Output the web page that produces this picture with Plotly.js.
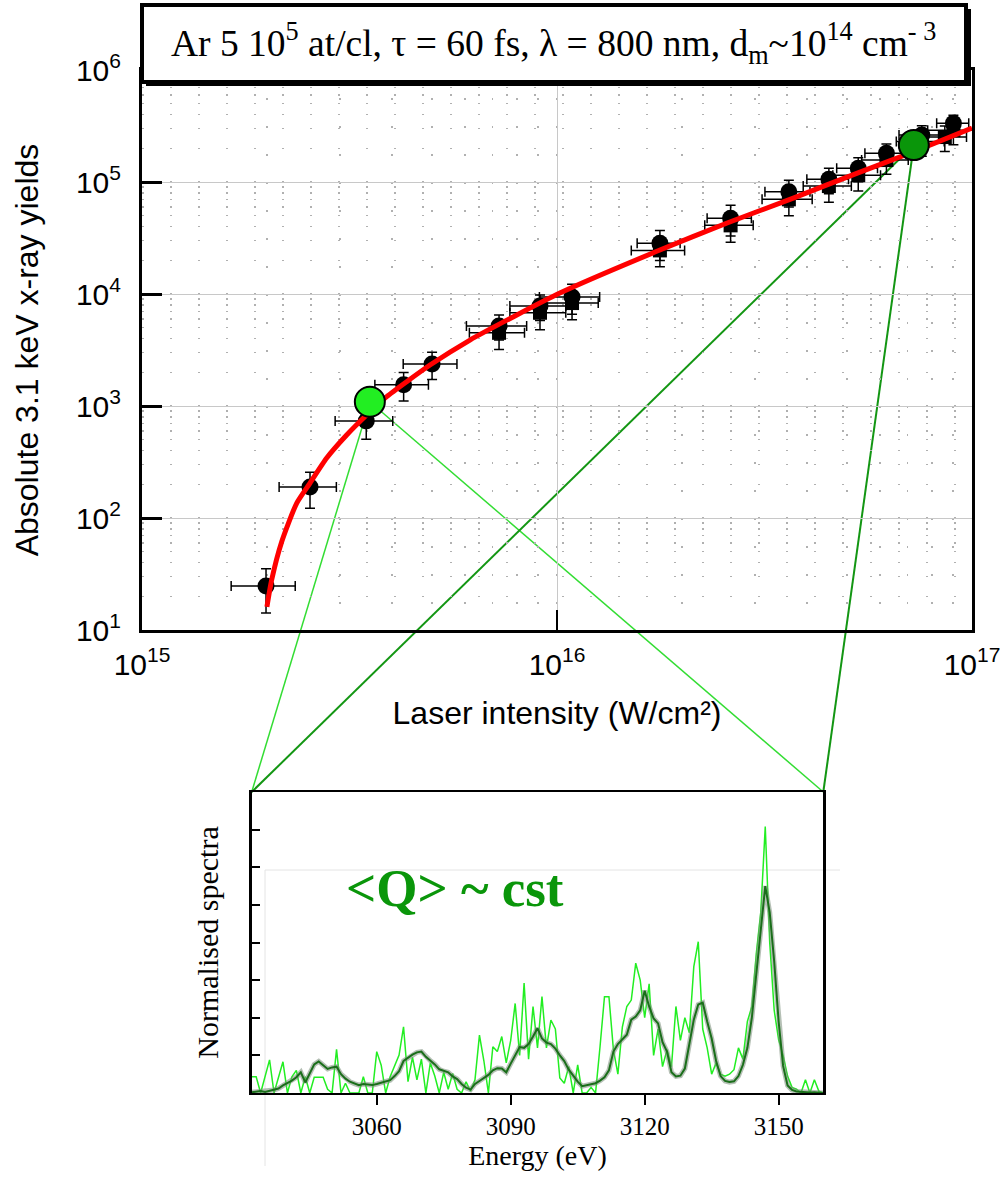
<!DOCTYPE html>
<html>
<head>
<meta charset="utf-8">
<script src="https://cdn.plot.ly/plotly-3.0.1.min.js"></script>
<style>html,body{margin:0;padding:0;background:#fff;}#chart{width:1000px;height:1182px;}</style>
</head>
<body>
<div id="chart"></div>
<script>
// ---------------- Main plot data (x: laser intensity W/cm², y: absolute 3.1 keV x-ray yield) ----------------
const circleX = [1.99e15, 2.54e15, 3.47e15, 4.27e15, 5.0e15, 7.25e15, 9.1e15, 1.087e16, 1.77e16, 2.62e16, 3.62e16, 4.52e16, 5.32e16, 6.22e16, 7.57e16, 9.02e16];
const circleY = [24.7, 189, 735, 1550, 2370, 5180, 7810, 9400, 28400, 47400, 81800, 105700, 132500, 180300, 263000, 334000];
const circleXErr = [0.35e15, 0.4e15, 0.55e15, 0.63e15, 0.74e15, 1.2e15, 1.4e15, 1.8e15, 2.1e15, 3.2e15, 4.5e15, 5.2e15, 6e15, 7e15, 9e15, 8e15];
const circleYErr = [10.5, 67, 230, 440, 650, 1300, 2000, 2800, 8500, 14500, 22000, 27000, 32000, 38000, 55000, 60000];

const squareX = [7.25e15, 9.1e15, 1.087e16, 1.77e16, 2.62e16, 3.62e16, 4.52e16, 5.32e16, 6.22e16, 7.57e16, 8.6e16, 9.02e16];
const squareY = [4500, 6800, 8300, 24500, 41000, 70000, 92000, 115000, 157000, 230000, 252000, 290000];
const squareXErr = [1.1e15, 1.4e15, 1.7e15, 2.6e15, 3.5e15, 5e15, 6e15, 7e15, 8e15, 1e16, 1.1e16, 1.2e16];
const squareYErr = [1300, 2000, 2400, 7000, 12000, 20000, 26000, 32000, 40000, 60000, 65000, 75000];

const fitX = [2.0e15, 2.053e15, 2.171e15, 2.36e15, 2.54e15, 2.786e15, 3.113e15, 3.478e15, 3.887e15, 4.343e15, 4.943e15, 6.17e15, 7.92e15, 1.016e16, 1.77e16, 2.57e16, 3.71e16, 5.37e16, 7.10e16, 1.0e17];
const fitY = [16.1, 27.9, 61.4, 136, 205, 343, 551, 831, 1211, 1648, 2322, 3880, 6370, 10200, 24700, 43000, 71900, 122700, 181500, 303000];

const lowPointX = [3.54e15];
const lowPointY = [1091];
const highPointX = [7.24e16];
const highPointY = [213600];

const xTickVals = [1e15, 1e16, 1e17];
const xTickText = ['10<sup>15</sup>', '10<sup>16</sup>', '10<sup>17</sup>'];
const yTickVals = [1e1, 1e2, 1e3, 1e4, 1e5, 1e6];
const yTickText = ['10<sup>1</sup>', '10<sup>2</sup>', '10<sup>3</sup>', '10<sup>4</sup>', '10<sup>5</sup>', '10<sup>6</sup>'];

// ---------------- Inset spectra data ----------------
const energy = [3032,3033,3034,3035,3036,3037,3038,3039,3040,3041,
3042,3043,3044,3045,3046,3047,3048,3049,3050,3051,
3052,3053,3054,3055,3056,3057,3058,3059,3060,3061,
3062,3063,3064,3065,3066,3067,3068,3069,3070,3071,
3072,3073,3074,3075,3076,3077,3078,3079,3080,3081,
3082,3083,3084,3085,3086,3087,3088,3089,3090,3091,
3092,3093,3094,3095,3096,3097,3098,3099,3100,3101,
3102,3103,3104,3105,3106,3107,3108,3109,3110,3111,
3112,3113,3114,3115,3116,3117,3118,3119,3120,3121,
3122,3123,3124,3125,3126,3127,3128,3129,3130,3131,
3132,3133,3134,3135,3136,3137,3138,3139,3140,3141,
3142,3143,3144,3145,3146,3147,3148,3149,3150,3151,
3152,3153,3154,3155,3156,3157,3158,3159,3160];

const spectrumHigh = [0.02,0.03,0.05,0.03,0.06,0.08,0.12,0.20,0.26,0.33,
0.42,0.55,0.28,0.52,0.76,0.84,0.75,0.64,0.68,0.70,
0.50,0.38,0.30,0.25,0.21,0.24,0.23,0.21,0.24,0.27,
0.29,0.34,0.45,0.58,0.85,0.94,1.02,1.08,1.10,0.96,
0.86,0.76,0.63,0.58,0.55,0.44,0.37,0.24,0.14,0.09,
0.24,0.32,0.40,0.48,0.60,0.66,0.65,0.55,0.78,1.02,
1.22,1.20,1.30,1.50,1.72,1.45,1.34,1.30,1.18,1.00,
0.85,0.62,0.45,0.30,0.18,0.20,0.24,0.26,0.33,0.42,
0.60,1.10,1.30,1.42,1.55,1.95,2.03,2.20,2.72,2.30,
1.98,1.85,1.35,1.10,0.55,0.44,0.46,0.65,1.30,1.95,
2.35,2.40,1.90,1.45,0.85,0.45,0.32,0.29,0.31,0.45,
0.75,1.20,2.00,3.20,4.40,5.50,4.80,3.50,1.90,0.72,
0.20,0.08,0.04,0.03,0.02,0.01,0.02,0.01,0.00];

const spectrumLow = [0.43,0.43,0.00,0.43,0.88,0.00,0.43,0.83,0.00,0.43,
0.60,0.00,0.43,0.00,0.42,0.42,0.42,0.10,0.00,1.16,
0.00,0.26,0.00,0.00,0.00,0.43,0.00,0.00,1.10,0.74,
0.00,0.43,0.70,1.01,1.76,0.30,0.95,0.35,0.90,0.00,
0.80,0.45,0.00,0.55,0.10,0.52,0.10,0.00,0.30,0.05,
0.35,1.54,0.85,0.00,1.23,1.10,1.50,0.80,1.40,2.38,
1.00,2.92,0.90,2.30,1.20,2.56,1.20,1.94,1.70,0.40,
0.26,0.70,0.00,0.75,0.00,0.00,0.15,0.00,1.23,2.56,
2.56,1.15,0.50,1.75,2.30,2.47,3.45,3.00,2.00,2.90,
1.00,1.70,0.70,1.15,0.70,2.30,1.40,2.00,1.60,3.36,
4.02,1.70,1.20,0.50,0.80,0.50,0.45,0.50,0.62,1.20,
0.90,1.90,2.30,3.71,4.80,7.08,4.00,2.20,1.41,1.00,
0.45,0.15,0.10,0.00,0.35,0.00,0.35,0.05,0.00];

const insetTickVals = [3060, 3090, 3120, 3150];
const insetYTickVals = [1, 2, 3, 4, 5, 6, 7];

// ---------------- Layout geometry ----------------
const W = 1000, H = 1182;
const px = p => p / W;
const py = p => 1 - p / H;

const mainXDomain = [px(142), px(972)];
const mainYDomain = [py(630), py(70)];
const mainXRange = [15, 17];
const mainYRange = [1, 6];
const insetXDomain = [px(251.7), px(823.3)];
const insetYDomain = [py(1093), py(792)];

function mainToPaper(x, y) {
  const fx = (Math.log10(x) - mainXRange[0]) / (mainXRange[1] - mainXRange[0]);
  const fy = (Math.log10(y) - mainYRange[0]) / (mainYRange[1] - mainYRange[0]);
  return [mainXDomain[0] + fx * (mainXDomain[1] - mainXDomain[0]),
          mainYDomain[0] + fy * (mainYDomain[1] - mainYDomain[0])];
}

const serif = 'Liberation Serif, Times New Roman, serif';
const sans = 'Liberation Sans, Arial, sans-serif';

const traces = [
  { x: squareX, y: squareY, xaxis: 'x', yaxis: 'y', mode: 'markers', type: 'scatter',
    marker: { symbol: 'square', size: 14, color: 'black' },
    error_x: { type: 'data', array: squareXErr, color: 'black', thickness: 1.5, width: 5 },
    error_y: { type: 'data', array: squareYErr, color: 'black', thickness: 1.5, width: 5 } },
  { x: circleX, y: circleY, xaxis: 'x', yaxis: 'y', mode: 'markers', type: 'scatter',
    marker: { symbol: 'circle', size: 17, color: 'black' },
    error_x: { type: 'data', array: circleXErr, color: 'black', thickness: 1.5, width: 5 },
    error_y: { type: 'data', array: circleYErr, color: 'black', thickness: 1.5, width: 5 } },
  { x: fitX, y: fitY, xaxis: 'x', yaxis: 'y', mode: 'lines', type: 'scatter',
    line: { color: '#ff0000', width: 5, shape: 'spline', smoothing: 0.6 } },
  { x: lowPointX, y: lowPointY, xaxis: 'x', yaxis: 'y', mode: 'markers', type: 'scatter',
    marker: { size: 30, color: '#22ee22', line: { color: 'black', width: 2 } } },
  { x: highPointX, y: highPointY, xaxis: 'x', yaxis: 'y', mode: 'markers', type: 'scatter',
    marker: { size: 30, color: '#0a960a', line: { color: 'black', width: 2 } } },
  { x: energy, y: spectrumLow, xaxis: 'x2', yaxis: 'y2', mode: 'lines', type: 'scatter',
    line: { color: '#22ee22', width: 1.5 } },
  { x: energy, y: spectrumHigh, xaxis: 'x2', yaxis: 'y2', mode: 'lines', type: 'scatter',
    line: { color: 'rgba(120,140,120,0.55)', width: 5 } },
  { x: energy, y: spectrumHigh, xaxis: 'x2', yaxis: 'y2', mode: 'lines', type: 'scatter',
    line: { color: '#1a6e1a', width: 2 } }
];

const lowP = mainToPaper(lowPointX[0], lowPointY[0]);
const highP = mainToPaper(highPointX[0], highPointY[0]);
const cornerL = [insetXDomain[0], insetYDomain[1]];
const cornerR = [insetXDomain[1], insetYDomain[1]];

const shapes = [
  // faint text-box outline behind the inset
  { type: 'line', xref: 'paper', yref: 'paper', x0: px(265), y0: py(870), x1: px(840), y1: py(870), layer: 'below', line: { color: '#e4e4e4', width: 1 } },
  { type: 'line', xref: 'paper', yref: 'paper', x0: px(265), y0: py(870), x1: px(265), y1: py(1166), layer: 'below', line: { color: '#e4e4e4', width: 1 } },
  // zoom lines from the two highlighted points to the inset corners
  { type: 'line', xref: 'paper', yref: 'paper', x0: lowP[0], y0: lowP[1], x1: cornerL[0], y1: cornerL[1], layer: 'below', line: { color: '#33dd33', width: 1.5 } },
  { type: 'line', xref: 'paper', yref: 'paper', x0: lowP[0], y0: lowP[1], x1: cornerR[0], y1: cornerR[1], layer: 'below', line: { color: '#33dd33', width: 1.5 } },
  { type: 'line', xref: 'paper', yref: 'paper', x0: highP[0], y0: highP[1], x1: cornerL[0], y1: cornerL[1], layer: 'below', line: { color: '#139613', width: 2 } },
  { type: 'line', xref: 'paper', yref: 'paper', x0: highP[0], y0: highP[1], x1: cornerR[0], y1: cornerR[1], layer: 'below', line: { color: '#139613', width: 2 } },
  // title box with shadow
  { type: 'rect', xref: 'paper', yref: 'paper', x0: px(146), y0: py(86), x1: px(971), y1: py(9), layer: 'above', fillcolor: 'black', line: { width: 0 } },
  { type: 'rect', xref: 'paper', yref: 'paper', x0: px(142), y0: py(82), x1: px(966), y1: py(5), layer: 'above', fillcolor: 'white', line: { color: 'black', width: 4 } }
];

const annotations = [
  { xref: 'paper', yref: 'paper', x: px(553), y: py(44), xanchor: 'center', yanchor: 'middle', showarrow: false,
    text: 'Ar 5 10<sup>5</sup> at/cl, τ = 60 fs, λ = 800 nm, d<sub>m</sub>~10<sup>14</sup> cm<sup>- 3</sup>',
    font: { family: serif, size: 37.5, color: 'black' } },
  { xref: 'paper', yref: 'paper', x: px(455), y: py(888), xanchor: 'center', yanchor: 'middle', showarrow: false,
    text: '<b>&lt;Q&gt; ~ cst</b>', font: { family: serif, size: 53, color: '#0a960a' } }
];

const layout = {
  width: W, height: H,
  margin: { l: 0, r: 0, t: 0, b: 0 },
  paper_bgcolor: 'white',
  plot_bgcolor: 'rgba(0,0,0,0)',
  showlegend: false,
  font: { family: sans, color: 'black' },
  xaxis: {
    type: 'log', range: mainXRange, domain: mainXDomain, anchor: 'y',
    tickmode: 'array', tickvals: xTickVals, ticktext: xTickText, tickfont: { family: sans, size: 30 },
    ticks: 'inside', ticklen: 20, tickwidth: 2, tickcolor: 'black', ticklabelstandoff: 6,
    ticklabeloverflow: 'allow',
    showline: true, linecolor: 'black', linewidth: 3, mirror: true, zeroline: false,
    showgrid: true, gridcolor: '#c8c8c8', gridwidth: 1,
    minor: { dtick: 'D1', showgrid: true, gridcolor: '#b0b0b0', gridwidth: 1.5, griddash: '2px,26px', ticks: '' },
    title: { text: 'Laser intensity (W/cm²)', font: { family: sans, size: 32 }, standoff: 22 }
  },
  yaxis: {
    type: 'log', range: mainYRange, domain: mainYDomain, anchor: 'x',
    tickmode: 'array', tickvals: yTickVals, ticktext: yTickText, tickfont: { family: sans, size: 30 },
    ticks: 'inside', ticklen: 20, tickwidth: 3, tickcolor: 'black', ticklabelstandoff: 12,
    ticklabeloverflow: 'allow',
    showline: true, linecolor: 'black', linewidth: 3, mirror: true, zeroline: false,
    showgrid: true, gridcolor: '#c8c8c8', gridwidth: 1,
    minor: { dtick: 'D1', showgrid: true, gridcolor: '#b0b0b0', gridwidth: 1.5, griddash: '2px,26px', ticks: '' },
    title: { text: 'Absolute 3.1 keV x-ray yields', font: { family: sans, size: 32 }, standoff: 28 }
  },
  xaxis2: {
    range: [3032, 3160], domain: insetXDomain, anchor: 'y2',
    tickmode: 'array', tickvals: insetTickVals, tickfont: { family: serif, size: 25 },
    ticks: 'outside', ticklen: 10, tickwidth: 2, tickcolor: 'black',
    showline: true, linecolor: 'black', linewidth: 2, mirror: true, showgrid: false, zeroline: false,
    title: { text: 'Energy (eV)', font: { family: serif, size: 28 }, standoff: 4 }
  },
  yaxis2: {
    range: [0, 8], domain: insetYDomain, anchor: 'x2',
    tickmode: 'array', tickvals: insetYTickVals, showticklabels: false,
    ticks: 'inside', ticklen: 8, tickwidth: 2, tickcolor: 'black',
    showline: true, linecolor: 'black', linewidth: 2.5, mirror: true, showgrid: false, zeroline: false,
    title: { text: 'Normalised spectra', font: { family: serif, size: 30 }, standoff: 22 }
  },
  shapes: shapes,
  annotations: annotations
};

Plotly.newPlot('chart', traces, layout, { displayModeBar: false, staticPlot: true });
</script>
</body>
</html>
